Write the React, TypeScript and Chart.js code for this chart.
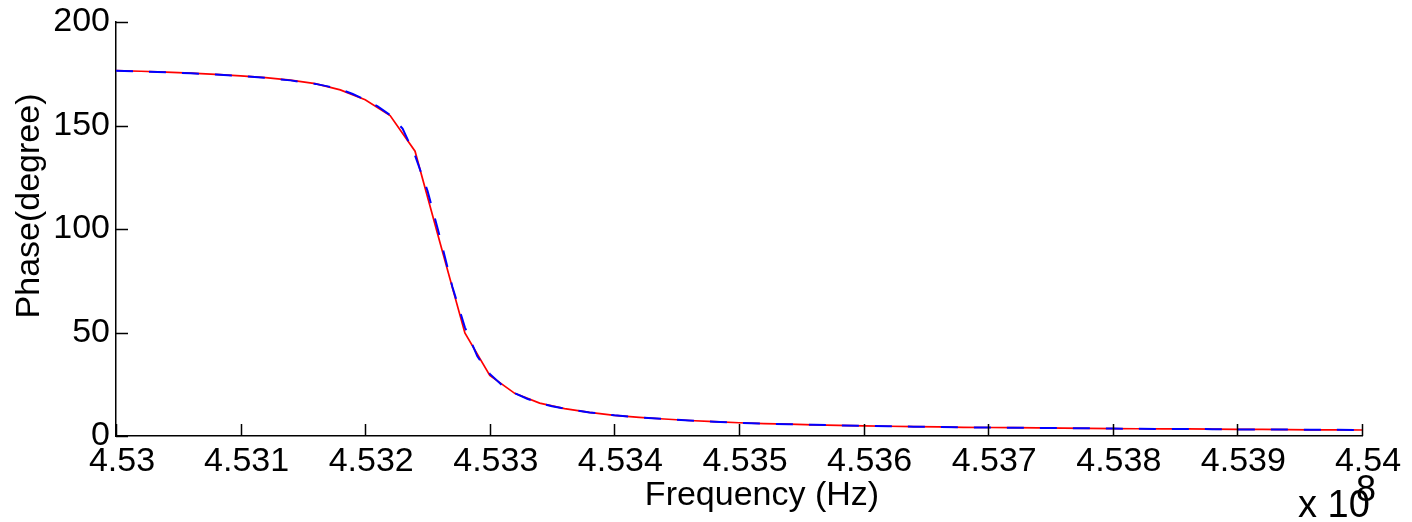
import React, { useEffect, useRef } from "react";
import { Chart, registerables } from "chart.js";

Chart.register(...registerables);

// Frequency in units of 1e8 Hz
const redFreq = [
  4.53, 4.5302, 4.5304, 4.5306, 4.5308, 4.531, 4.5312, 4.5314, 4.5316, 4.5318,
  4.532, 4.5322, 4.5324, 4.5326, 4.5328, 4.533, 4.5332, 4.5334, 4.5336, 4.5338,
  4.534, 4.5342, 4.5344, 4.5346, 4.5348, 4.535, 4.5352, 4.5354, 4.5356, 4.5358,
  4.536, 4.5362, 4.5364, 4.5366, 4.5368, 4.537, 4.5372, 4.5374, 4.5376, 4.5378,
  4.538, 4.5382, 4.5384, 4.5386, 4.5388, 4.539, 4.5392, 4.5394, 4.5396, 4.5398,
  4.54,
];
const redPhase = [
  176.5, 176.2, 175.8, 175.3, 174.7, 174.0, 173.1, 171.9, 170.2, 167.2,
  162.4, 154.8, 137.6, 93.5, 49.8, 29.3, 20.6, 15.9, 13.2, 11.4,
  10.0, 9.0, 8.2, 7.5, 6.9, 6.4, 6.0, 5.7, 5.4, 5.1,
  4.9, 4.7, 4.5, 4.4, 4.2, 4.1, 4.0, 3.9, 3.8, 3.7,
  3.6, 3.5, 3.4, 3.4, 3.3, 3.2, 3.2, 3.1, 3.0, 3.0,
  2.9,
];

const blueFreq = [
  4.53, 4.5302, 4.5304, 4.5306, 4.5308, 4.531, 4.5312, 4.5314, 4.5316, 4.5317,
  4.5318, 4.5319, 4.532, 4.5321, 4.5322, 4.5323, 4.5324, 4.5325, 4.5326, 4.5327,
  4.5328, 4.5329, 4.533, 4.5331, 4.5332, 4.5333, 4.5334, 4.5335, 4.5336, 4.5338,
  4.534, 4.5342, 4.5344, 4.5346, 4.5348, 4.535, 4.5352, 4.5354, 4.5356, 4.5358,
  4.536, 4.5362, 4.5364, 4.5366, 4.5368, 4.537, 4.5372, 4.5374, 4.5376, 4.5378,
  4.538, 4.5382, 4.5384, 4.5386, 4.5388, 4.539, 4.5392, 4.5394, 4.5396, 4.5398,
  4.54,
];
const bluePhase = [
  176.4, 176.1, 175.7, 175.2, 174.6, 173.9, 173.0, 171.8, 170.1, 168.9,
  167.5, 165.2, 162.5, 159.2, 155.0, 148.5, 135.5, 118.5, 96.0, 72.0,
  52.5, 38.5, 30.0, 24.4, 20.7, 18.0, 15.9, 14.4, 13.2, 11.4,
  10.0, 9.0, 8.2, 7.5, 6.9, 6.4, 6.0, 5.7, 5.4, 5.1,
  4.9, 4.7, 4.5, 4.4, 4.2, 4.1, 4.0, 3.9, 3.8, 3.7,
  3.6, 3.5, 3.4, 3.4, 3.3, 3.2, 3.2, 3.1, 3.0, 3.0,
  2.9,
];

const xTicks = [4.53, 4.531, 4.532, 4.533, 4.534, 4.535, 4.536, 4.537, 4.538, 4.539, 4.54];
const yTicks = [0, 50, 100, 150, 200];

const xTitle = "Frequency (Hz)";
const yTitle = "Phase(degree)";
const expBase = "x 10";
const expPower = "8";

const FONT = '"Liberation Sans", Arial, Helvetica, sans-serif';

export default function App() {
  const ref = useRef<HTMLCanvasElement | null>(null);

  useEffect(() => {
    if (!ref.current) return;

    const decor = {
      id: "matlabDecor",
      afterDraw(chart: any) {
        const ctx = chart.ctx;
        const xs = chart.scales.x;
        const ys = chart.scales.y;
        const area = chart.chartArea;
        ctx.save();
        ctx.strokeStyle = "#000";
        ctx.lineWidth = 1.5;
        ctx.beginPath();
        xTicks.forEach((v) => {
          const px = Math.round(xs.getPixelForValue(v)) + 0.5;
          ctx.moveTo(px, area.bottom);
          ctx.lineTo(px, area.bottom - 12);
        });
        yTicks.forEach((v) => {
          const py = Math.round(ys.getPixelForValue(v)) + 0.5;
          ctx.moveTo(area.left, py);
          ctx.lineTo(area.left + 12, py);
        });
        ctx.stroke();

        ctx.fillStyle = "#000";
        ctx.font = `34px ${FONT}`;
        ctx.textAlign = "center";
        ctx.textBaseline = "alphabetic";
        ctx.fillText(xTitle, 762, 505);

        ctx.save();
        ctx.translate(39, 206);
        ctx.rotate(-Math.PI / 2);
        ctx.fillText(yTitle, 0, 0);
        ctx.restore();

        ctx.textAlign = "left";
        ctx.font = `38px ${FONT}`;
        ctx.fillText(expBase, 1298, 517);
        ctx.font = `36px ${FONT}`;
        ctx.fillText(expPower, 1356, 501);
        ctx.restore();
      },
    };

    const chart = new Chart(ref.current, {
      type: "line",
      data: {
        datasets: [
          {
            label: "blue",
            data: blueFreq.map((f, i) => ({ x: f, y: bluePhase[i] })),
            borderColor: "#0000ff",
            borderWidth: 2,
            borderDash: [17, 16],
            pointRadius: 0,
            tension: 0,
            fill: false,
          },
          {
            label: "red",
            data: redFreq.map((f, i) => ({ x: f, y: redPhase[i] })),
            borderColor: "#ff0000",
            borderWidth: 1.7,
            pointRadius: 0,
            tension: 0,
            fill: false,
          },
        ],
      },
      options: {
        animation: false,
        responsive: false,
        devicePixelRatio: 1,
        layout: { padding: { left: 0, right: 50, top: 22, bottom: 0 } },
        plugins: {
          legend: { display: false },
          tooltip: { enabled: false },
        },
        scales: {
          x: {
            type: "linear",
            min: 4.53,
            max: 4.54,
            afterBuildTicks: (s: any) => {
              s.ticks = xTicks.map((v) => ({ value: v }));
            },
            afterFit: (s: any) => {
              s.height = 86;
              s.paddingLeft = 0;
              s.paddingRight = 0;
            },
            ticks: {
              autoSkip: false,
              maxRotation: 0,
              padding: 5,
              labelOffset: 6,
              color: "#000",
              font: { family: FONT, size: 34 },
              callback: (v: any) => String(v),
            },
            grid: { display: true, drawOnChartArea: false, drawTicks: false },
            border: { display: true, color: "#000", width: 1.5 },
          },
          y: {
            type: "linear",
            min: 0,
            max: 200,
            afterBuildTicks: (s: any) => {
              s.ticks = yTicks.map((v) => ({ value: v }));
            },
            afterFit: (s: any) => {
              s.width = 116;
              s.paddingTop = 0;
              s.paddingBottom = 0;
            },
            ticks: {
              autoSkip: false,
              padding: 6,
              color: "#000",
              font: { family: FONT, size: 34 },
              callback: (v: any) => String(v),
            },
            grid: { display: true, drawOnChartArea: false, drawTicks: false },
            border: { display: true, color: "#000", width: 1.5 },
          },
        },
      },
      plugins: [decor],
    });

    return () => chart.destroy();
  }, []);

  return (
    <div style={{ position: "absolute", left: 0, top: 0, width: 1412, height: 522, background: "#fff" }}>
      <canvas ref={ref} width={1412} height={522} style={{ width: 1412, height: 522, display: "block" }} />
    </div>
  );
}
